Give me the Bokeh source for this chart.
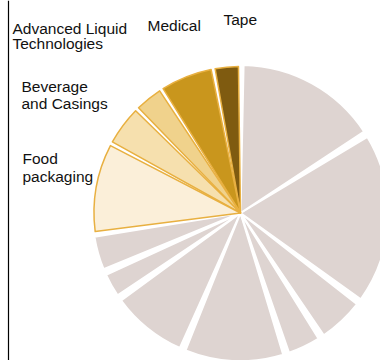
import math
from bokeh.plotting import figure
from bokeh.models import Range1d, Span, ColumnDataSource
from bokeh.core.properties import value
from bokeh.embed import file_html
from bokeh.resources import INLINE

# Segments, counterclockwise from 12 o'clock
segments = ["Tape", "Medical", "Advanced Liquid\nTechnologies", "Beverage\nand Casings",
            "Food\npackaging", "Other 8", "Other 7", "Other 6", "Other 5", "Other 4",
            "Other 3", "Other 2", "Other 1"]
shares = [3.0, 6.1, 3.4, 4.7, 10.1, 4.3, 3.2, 8.9, 11.4, 4.2, 5.6, 19.2, 16.1]
colors = ["#7f5b10", "#c9961d", "#f0d28c", "#f6e0ae", "#fbefd9",
          "#ded4d1", "#ded4d1", "#ded4d1", "#ded4d1", "#ded4d1", "#ded4d1", "#ded4d1", "#ded4d1"]
highlighted = [True, True, True, True, True, False, False, False, False, False, False, False, False]
labels = ["Tape", "Medical", "Advanced Liquid\nTechnologies", "Beverage\nand Casings", "Food\npackaging"]

W, H = 380, 360
cx, cy = 240, H - 212.5
R = 147

total = sum(shares)
starts, ends = [], []
acc = 0.0
for s in shares:
    a0 = math.pi / 2 + 2 * math.pi * acc / total
    acc += s
    a1 = math.pi / 2 + 2 * math.pi * acc / total
    starts.append(a0)
    ends.append(a1)

grey = dict(x=[], y=[], s=[], e=[], c=[])
gold = dict(x=[], y=[], s=[], e=[], c=[])
for a0, a1, col, hi in zip(starts, ends, colors, highlighted):
    pad = math.radians(0.8 if hi else 1.2)
    d = gold if hi else grey
    d["x"].append(cx); d["y"].append(cy)
    d["s"].append(a0 + pad); d["e"].append(a1 - pad); d["c"].append(col)

p = figure(width=W, height=H, x_range=Range1d(0, W), y_range=Range1d(0, H),
           x_axis_type=None, y_axis_type=None, toolbar_location=None,
           output_backend="svg", min_border=0, outline_line_color=None,
           background_fill_color="white", border_fill_color="white")
p.grid.visible = False

p.wedge(x="x", y="y", radius=R + 1, start_angle="s", end_angle="e", direction="anticlock",
        fill_color="c", line_color="white", line_width=2, line_join="round",
        source=ColumnDataSource(grey))
p.wedge(x="x", y="y", radius=R - 0.5, start_angle="s", end_angle="e", direction="anticlock",
        fill_color="c", line_color="#e8b041", line_width=1.5, line_join="round",
        source=ColumnDataSource(gold))

# labels (screen positions: left x, first baseline y, line spacing)
lab_pos = [(223, 19, 0), (147, 25, 0), (12, 28, 15), (21, 86, 17.3), (22, 158, 18)]
tx, ty, tt = [], [], []
for lab, (x0, y0, dy) in zip(labels, lab_pos):
    for i, line in enumerate(lab.split("\n")):
        tx.append(x0)
        ty.append(H - (y0 + i * dy))
        tt.append(line)
p.text(x=tx, y=ty, text=tt, text_font=value("Liberation Sans"), text_font_size=value("15.5px"),
       text_baseline="alphabetic", text_align="left", text_color="#111111")

p.add_layout(Span(location=8, dimension="height", line_color="black", line_width=1.2))

open("out.html", "w").write(file_html(p, INLINE))
